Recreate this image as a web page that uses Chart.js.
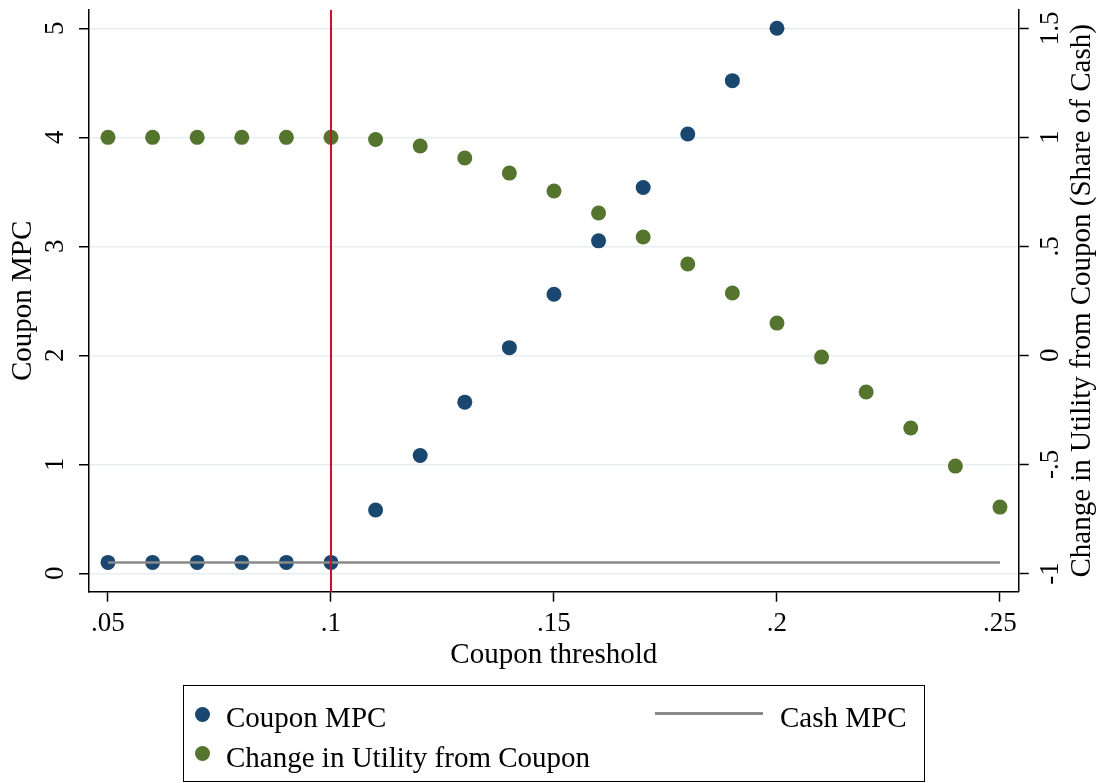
<!DOCTYPE html>
<html><head><meta charset="utf-8">
<script src="https://cdn.jsdelivr.net/npm/chart.js@4.4.1/dist/chart.umd.min.js"></script>
<style>
html,body{margin:0;padding:0;background:#fff;}
#wrap{position:relative;width:1102px;height:783px;font-family:'Liberation Serif',serif;overflow:hidden;}
#c{position:absolute;left:0;top:0;}
.legend{position:absolute;left:183px;top:685px;width:742px;height:97px;border:1.5px solid #000;box-sizing:border-box;}
.item{position:absolute;font-size:29px;line-height:30px;white-space:nowrap;color:#000;}
.dot{position:absolute;width:15px;height:15px;border-radius:50%;}
.ln{position:absolute;height:2.5px;background:#8a8a8a;}
</style></head><body>
<div id="wrap">
<canvas id="c" width="1102" height="783"></canvas>
<div class="legend"></div>
<div class="dot" style="left:195px;top:707px;background:#1a476f"></div>
<div class="item" style="left:226px;top:702px">Coupon MPC</div>
<div class="dot" style="left:195px;top:746px;background:#55752f"></div>
<div class="item" style="left:226px;top:742px">Change in Utility from Coupon</div>
<div class="ln" style="left:655px;top:712px;width:108px"></div>
<div class="item" style="left:780px;top:702px">Cash MPC</div>
</div>
<script>
const thresholds = [0.05,0.06,0.07,0.08,0.09,0.10,0.11,0.12,0.13,0.14,0.15,0.16,0.17,0.18,0.19,0.20,0.21,0.22,0.23,0.24,0.25];
const couponMPC = [0.1,0.1,0.1,0.1,0.1,0.1,0.58,1.08,1.57,2.07,2.56,3.05,3.54,4.03,4.52,5.0];
const utilityChange = [1.0,1.0,1.0,1.0,1.0,1.0,0.99,0.96,0.905,0.836,0.754,0.653,0.543,0.419,0.286,0.148,-0.008,-0.168,-0.333,-0.508,-0.696];
const cashMPC = [0.1,0.1,0.1,0.1,0.1,0.1,0.1,0.1,0.1,0.1,0.1,0.1,0.1,0.1,0.1,0.1,0.1,0.1,0.1,0.1,0.1];
const couponThreshold = 0.1;

const xTicks = [0.05,0.10,0.15,0.20,0.25];
const xTickLabels = ['.05','.1','.15','.2','.25'];
const leftTicks = [0,1,2,3,4,5];
const leftTickLabels = ['0','1','2','3','4','5'];
const rightTicks = [-1,-0.5,0,0.5,1,1.5];
const rightTickLabels = ['-1','-.5','0','.5','1','1.5'];

const xTitle = 'Coupon threshold';
const leftTitle = 'Coupon MPC';
const rightTitle = 'Change in Utility from Coupon (Share of Cash)';

Chart.defaults.font.family = "'Liberation Serif', serif";
Chart.defaults.color = '#000';

const refLine = {
  id: 'refLine',
  afterDatasetsDraw(chart) {
    const {ctx, chartArea: a, scales} = chart;
    const x = scales.x.getPixelForValue(couponThreshold);
    ctx.save();
    ctx.strokeStyle = '#c8102e';
    ctx.lineWidth = 2;
    ctx.beginPath();
    ctx.moveTo(x, a.top);
    ctx.lineTo(x, a.bottom);
    ctx.stroke();
    ctx.restore();
  }
};
const rightTitlePlugin = {
  id: 'rightTitlePlugin',
  afterDraw(chart) {
    const {ctx, chartArea: a} = chart;
    ctx.save();
    ctx.translate(chart.scales.y2.right - 20, (a.top + a.bottom) / 2);
    ctx.rotate(-Math.PI / 2);
    ctx.font = "29px 'Liberation Serif'";
    ctx.textAlign = 'center';
    ctx.textBaseline = 'middle';
    ctx.fillStyle = '#000';
    ctx.fillText(rightTitle, 0, 0);
    ctx.restore();
  }
};

new Chart(document.getElementById('c'), {
  type: 'scatter',
  data: {
    datasets: [
      {label: 'Cash MPC', data: thresholds.map((x, i) => ({x, y: cashMPC[i]})), yAxisID: 'y',
       showLine: true, borderColor: '#8a8a8a', borderWidth: 2.5, pointRadius: 0, order: 0},
      {label: 'Coupon MPC', data: couponMPC.map((y, i) => ({x: thresholds[i], y})), yAxisID: 'y',
       backgroundColor: '#1a476f', borderColor: '#1a476f', borderWidth: 0, pointRadius: 7.5, order: 1},
      {label: 'Change in Utility from Coupon', data: utilityChange.map((y, i) => ({x: thresholds[i], y})), yAxisID: 'y2',
       backgroundColor: '#55752f', borderColor: '#55752f', borderWidth: 0, pointRadius: 7.5, order: 2}
    ]
  },
  options: {
    responsive: false,
    animation: false,
    events: [],
    layout: {padding: {top: 10, left: 0, right: 0, bottom: 91.3}},
    plugins: {legend: {display: false}, tooltip: {enabled: false}},
    scales: {
      x: {
        type: 'linear', min: 0.04574, max: 0.2542,
        afterBuildTicks: s => { s.ticks = xTicks.map(v => ({value: v})); },
        afterFit: s => { s.height = 100; s.paddingLeft = 0; s.paddingRight = 0; },
        ticks: {callback: (v, i) => xTickLabels[i], font: {size: 27}, padding: 6, maxRotation: 0, autoSkip: false},
        grid: {drawOnChartArea: false, tickLength: 10, tickColor: '#000', tickWidth: 1.5},
        border: {color: '#000', width: 1.5},
        title: {display: true, text: xTitle, font: {size: 29}, padding: {top: 0, bottom: 19}}
      },
      y: {
        type: 'linear', position: 'left', min: -0.169, max: 5.168,
        afterBuildTicks: s => { s.ticks = leftTicks.map(v => ({value: v})); },
        afterFit: s => { s.width = 89; s.paddingTop = 0; s.paddingBottom = 0; },
        ticks: {callback: (v, i) => leftTickLabels[i], font: {size: 27}, padding: 16, minRotation: 90, maxRotation: 90, crossAlign: 'center', autoSkip: false},
        grid: {color: '#e6eef0', lineWidth: 1.5, tickLength: 10, tickColor: '#000', tickWidth: 1.5},
        border: {color: '#000', width: 1.5},
        title: {display: true, text: leftTitle, font: {size: 29}, padding: {top: 6, bottom: 0}}
      },
      y2: {
        type: 'linear', position: 'right', min: -1.084, max: 1.584,
        afterBuildTicks: s => { s.ticks = rightTicks.map(v => ({value: v})); },
        afterFit: s => { s.width = 83.3; s.paddingTop = 0; s.paddingBottom = 0; },
        ticks: {callback: (v, i) => rightTickLabels[i], font: {size: 27}, padding: 5, minRotation: 90, maxRotation: 90, crossAlign: 'center', autoSkip: false},
        grid: {drawOnChartArea: false, tickLength: 10, tickColor: '#000', tickWidth: 1.5},
        border: {color: '#000', width: 1.5}
      }
    }
  },
  plugins: [refLine, rightTitlePlugin]
});
</script>
</body></html>
